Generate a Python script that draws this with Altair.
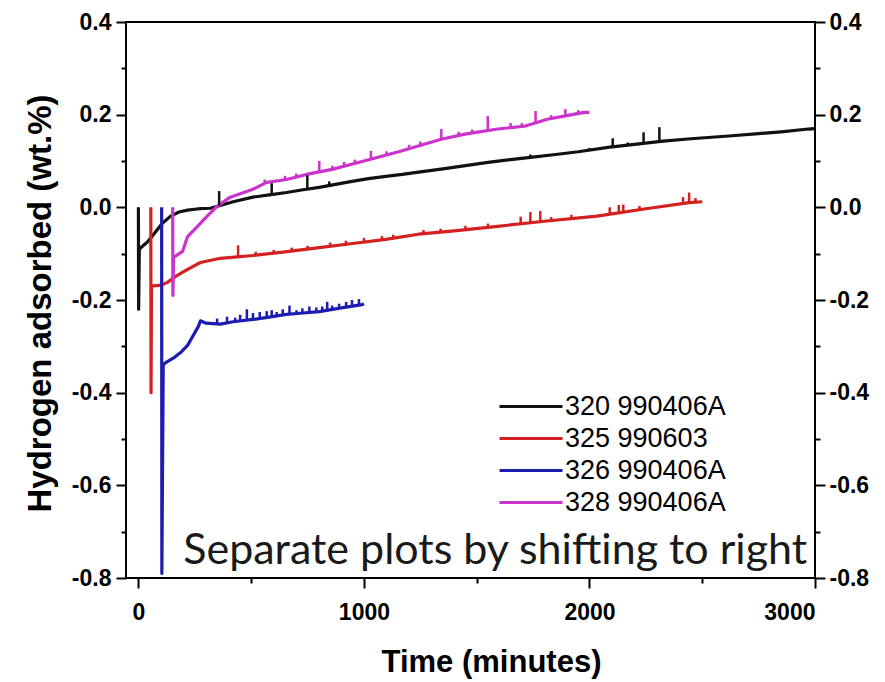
import altair as alt
import pandas as pd

SERIES = ["320 990406A", "325 990603", "326 990406A", "328 990406A"]
COLORS = ["#111111", "#d42020", "#1c1cb0", "#cc33cc"]

# --- main curves (time in minutes, hydrogen adsorbed wt.%) ---
b_x = [0, 1, 4, 40, 68, 105, 143, 180, 218, 270, 319, 363, 420, 508, 580, 657, 730, 802, 880, 947,
       1020, 1097, 1170, 1242, 1350, 1450, 1550, 1650, 1738, 1850, 1950, 2090, 2200, 2327, 2450, 2618,
       2750, 2850, 2970, 3000]
b_y = [0.0, -0.22, -0.09, -0.075, -0.058, -0.035, -0.019, -0.010, -0.006, -0.003, -0.002, 0.004, 0.012,
       0.022, 0.027, 0.032, 0.038, 0.043, 0.050, 0.056, 0.062, 0.067, 0.071, 0.076, 0.083, 0.090, 0.097,
       0.103, 0.108, 0.114, 0.120, 0.130, 0.136, 0.143, 0.148, 0.154, 0.159, 0.163, 0.169, 0.170]

r_x = [55, 56, 58, 100, 129, 165, 218, 275, 363, 508, 650, 802, 950, 1097, 1242, 1400, 1593, 1800,
       2033, 2250, 2442, 2500]
r_y = [0.0, -0.40, -0.17, -0.168, -0.162, -0.149, -0.134, -0.119, -0.110, -0.104, -0.096, -0.087,
       -0.078, -0.069, -0.058, -0.051, -0.041, -0.030, -0.019, -0.003, 0.010, 0.012]

u_x = [103, 104, 110, 121, 156, 190, 218, 245, 266, 275, 300, 363, 420, 508, 580, 657, 730, 802, 900,
       992, 1000]
u_y = [0.0, -0.79, -0.34, -0.335, -0.325, -0.312, -0.298, -0.275, -0.257, -0.245, -0.250, -0.252,
       -0.247, -0.242, -0.237, -0.231, -0.228, -0.225, -0.217, -0.210, -0.208]

m_x = [152, 153, 156, 196, 218, 262, 305, 349, 407, 508, 569, 657, 745, 859, 1000, 1154, 1343, 1448,
       1593, 1712, 1813, 1888, 1976, 2000]
m_y = [0.0, -0.19, -0.108, -0.095, -0.063, -0.041, -0.019, 0.002, 0.022, 0.039, 0.054, 0.060, 0.071,
       0.082, 0.100, 0.120, 0.147, 0.158, 0.169, 0.175, 0.190, 0.197, 0.205, 0.205]

# --- spikes: time, base value, peak value ---
bs_x = [358, 591, 749, 846, 1738, 2000, 2103, 2170, 2240, 2310]
bs_lo = [0.004, 0.030, 0.041, 0.046, 0.108, 0.123, 0.131, 0.134, 0.138, 0.141]
bs_hi = [0.035, 0.052, 0.069, 0.056, 0.114, 0.128, 0.149, 0.140, 0.162, 0.173]

rs_x = [442, 520, 600, 680, 750, 850, 920, 1000, 1080, 1130, 1264, 1340, 1450, 1550, 1695, 1738, 1782,
        1830, 1920, 2090, 2130, 2150, 2222, 2415, 2442, 2470]
rs_lo = [-0.107, -0.104, -0.100, -0.095, -0.091, -0.084, -0.080, -0.075, -0.070, -0.067, -0.058, -0.054,
         -0.048, -0.043, -0.035, -0.033, -0.031, -0.029, -0.024, -0.015, -0.012, -0.011, -0.005, 0.008,
         0.010, 0.011]
rs_hi = [-0.082, -0.096, -0.092, -0.087, -0.083, -0.076, -0.072, -0.066, -0.062, -0.059, -0.049, -0.046,
         -0.040, -0.035, -0.020, -0.010, -0.008, -0.021, -0.016, 0.000, 0.005, 0.006, 0.003, 0.022,
         0.032, 0.020]

us_x = [349, 393, 429, 451, 481, 508, 538, 569, 591, 613, 640, 670, 701, 727, 758, 789, 815, 837, 859,
        890, 921, 947, 978]
us_lo = [-0.252, -0.250, -0.249, -0.247, -0.245, -0.242, -0.240, -0.238, -0.236, -0.234, -0.232, -0.231,
         -0.230, -0.228, -0.227, -0.225, -0.224, -0.222, -0.220, -0.218, -0.215, -0.213, -0.211]
us_hi = [-0.240, -0.236, -0.238, -0.232, -0.220, -0.228, -0.226, -0.224, -0.222, -0.226, -0.220, -0.212,
         -0.222, -0.218, -0.214, -0.216, -0.214, -0.204, -0.212, -0.208, -0.204, -0.200, -0.198]

ms_x = [560, 650, 700, 802, 860, 912, 960, 1031, 1100, 1200, 1250, 1343, 1420, 1480, 1549, 1650, 1700,
        1761, 1830, 1893, 1950]
ms_lo = [0.052, 0.060, 0.065, 0.074, 0.082, 0.089, 0.095, 0.104, 0.113, 0.127, 0.134, 0.147, 0.155,
         0.160, 0.166, 0.172, 0.174, 0.182, 0.191, 0.197, 0.202]
ms_hi = [0.060, 0.068, 0.073, 0.100, 0.090, 0.098, 0.103, 0.122, 0.121, 0.135, 0.142, 0.169, 0.163,
         0.168, 0.197, 0.182, 0.182, 0.208, 0.199, 0.212, 0.210]

X_TICKS = [0, 500, 1000, 1500, 2000, 2500, 3000]
Y_TICKS = [-0.8, -0.7, -0.6, -0.5, -0.4, -0.3, -0.2, -0.1, 0.0, 0.1, 0.2, 0.3, 0.4]

ANNOT_TEXT = ["Separate plots by shifting to right"]
ANNOT_T = [1582]
ANNOT_H = [-0.770]

# --- tables ---
rows = []
for name, xs, ys in zip(SERIES, [b_x, r_x, u_x, m_x], [b_y, r_y, u_y, m_y]):
    for i, (x, y) in enumerate(zip(xs, ys)):
        rows.append({"series": name, "t": x, "h": y, "i": i})
lines_df = pd.DataFrame(rows)

srows = []
for name, xs, lo, hi in zip(SERIES, [bs_x, rs_x, us_x, ms_x], [bs_lo, rs_lo, us_lo, ms_lo],
                            [bs_hi, rs_hi, us_hi, ms_hi]):
    for x, a, b in zip(xs, lo, hi):
        srows.append({"series": name, "t": x, "lo": a, "hi": b})
spikes_df = pd.DataFrame(srows)

annot_df = pd.DataFrame({"t": ANNOT_T, "h": ANNOT_H, "txt": ANNOT_TEXT})

FONT = "Liberation Sans"
MINUS = "\u2212"

x_scale = alt.Scale(domain=[-55, 3000], nice=False, zero=False)
y_scale = alt.Scale(domain=[-0.8, 0.4], nice=False, zero=False)

x_axis = alt.Axis(
    values=X_TICKS, format="d",
    labelExpr="datum.value % 1000 === 0 ? datum.label : ''",
    tickSize={"condition": {"test": "datum.value % 1000 === 0", "value": 10}, "value": 5},
    tickWidth=2, tickColor="black", domain=False, grid=False,
    labelFont=FONT, labelFontWeight="bold", labelFontSize=23, labelColor="black", labelPadding=13,
    titleFont=FONT, titleFontWeight="bold", titleFontSize=31, titleColor="black",
    titleX=365, titleY=93, titleBaseline="alphabetic", titleAlign="center",
)

y_label_expr = ("abs(round(datum.value*10)) % 2 === 0 ? replace(format(datum.value, '.1f'), '"
                + MINUS + "', '-') : ''")
y_tick_size = {"condition": {"test": "abs(round(datum.value*10)) % 2 === 0", "value": 10}, "value": 5}

y_axis_left = alt.Axis(
    orient="left", values=Y_TICKS, labelExpr=y_label_expr, tickSize=y_tick_size,
    tickWidth=2, tickColor="black", domain=False, grid=False,
    labelFont=FONT, labelFontWeight="bold", labelFontSize=23, labelColor="black", labelPadding=5,
    titleFont=FONT, titleFontWeight="bold", titleFontSize=33, titleColor="black",
    titleX=-76, titleY=281, titleBaseline="alphabetic", titleAlign="center", titleAngle=270,
)
y_axis_right = alt.Axis(
    orient="right", values=Y_TICKS, labelExpr=y_label_expr, tickSize=y_tick_size,
    tickWidth=2, tickColor="black", domain=False, grid=False,
    labelFont=FONT, labelFontWeight="bold", labelFontSize=23, labelColor="black", labelPadding=4,
)

color_scale = alt.Scale(domain=SERIES, range=COLORS)

lines = alt.Chart(lines_df).mark_line(strokeWidth=3.2, strokeJoin="round").encode(
    x=alt.X("t:Q", scale=x_scale, axis=x_axis, title="Time (minutes)"),
    y=alt.Y("h:Q", scale=y_scale, axis=y_axis_left, title="Hydrogen adsorbed (wt.%)"),
    color=alt.Color("series:N", scale=color_scale, title=None, legend=alt.Legend(
        orient="none", legendX=360, legendY=371, padding=0,
        symbolType="M0,0H6", symbolSize=441, symbolStrokeWidth=3, symbolOpacity=1,
        labelFont=FONT, labelFontSize=27, labelColor="black", labelOffset=52,
        rowPadding=4, labelLimit=400,
    )),
    order=alt.Order("i:Q"),
)

spikes = alt.Chart(spikes_df).mark_rule(strokeWidth=2.5).encode(
    x=alt.X("t:Q", scale=x_scale, axis=x_axis, title="Time (minutes)"),
    y=alt.Y("lo:Q", scale=y_scale, axis=y_axis_right, title=""),
    y2="hi:Q",
    color=alt.Color("series:N", scale=color_scale, legend=None),
)

annot = alt.Chart(annot_df).mark_text(
    font="Lato", fontSize=43, color="#1a1a1a", align="center", baseline="alphabetic"
).encode(
    x=alt.X("t:Q", scale=x_scale, axis=x_axis, title="Time (minutes)"),
    y=alt.Y("h:Q", scale=y_scale, axis=None),
    text="txt:N",
)

chart = alt.layer(lines, spikes, annot).resolve_axis(y="independent").properties(
    width=689, height=556,
    padding={"left": 126, "top": 22, "right": 70, "bottom": 104},
    autosize=alt.AutoSizeParams(type="none"),
    background="white",
).configure_view(stroke="black", strokeWidth=2)

chart.save("out.html", embed_options={"renderer": "svg", "actions": False})
